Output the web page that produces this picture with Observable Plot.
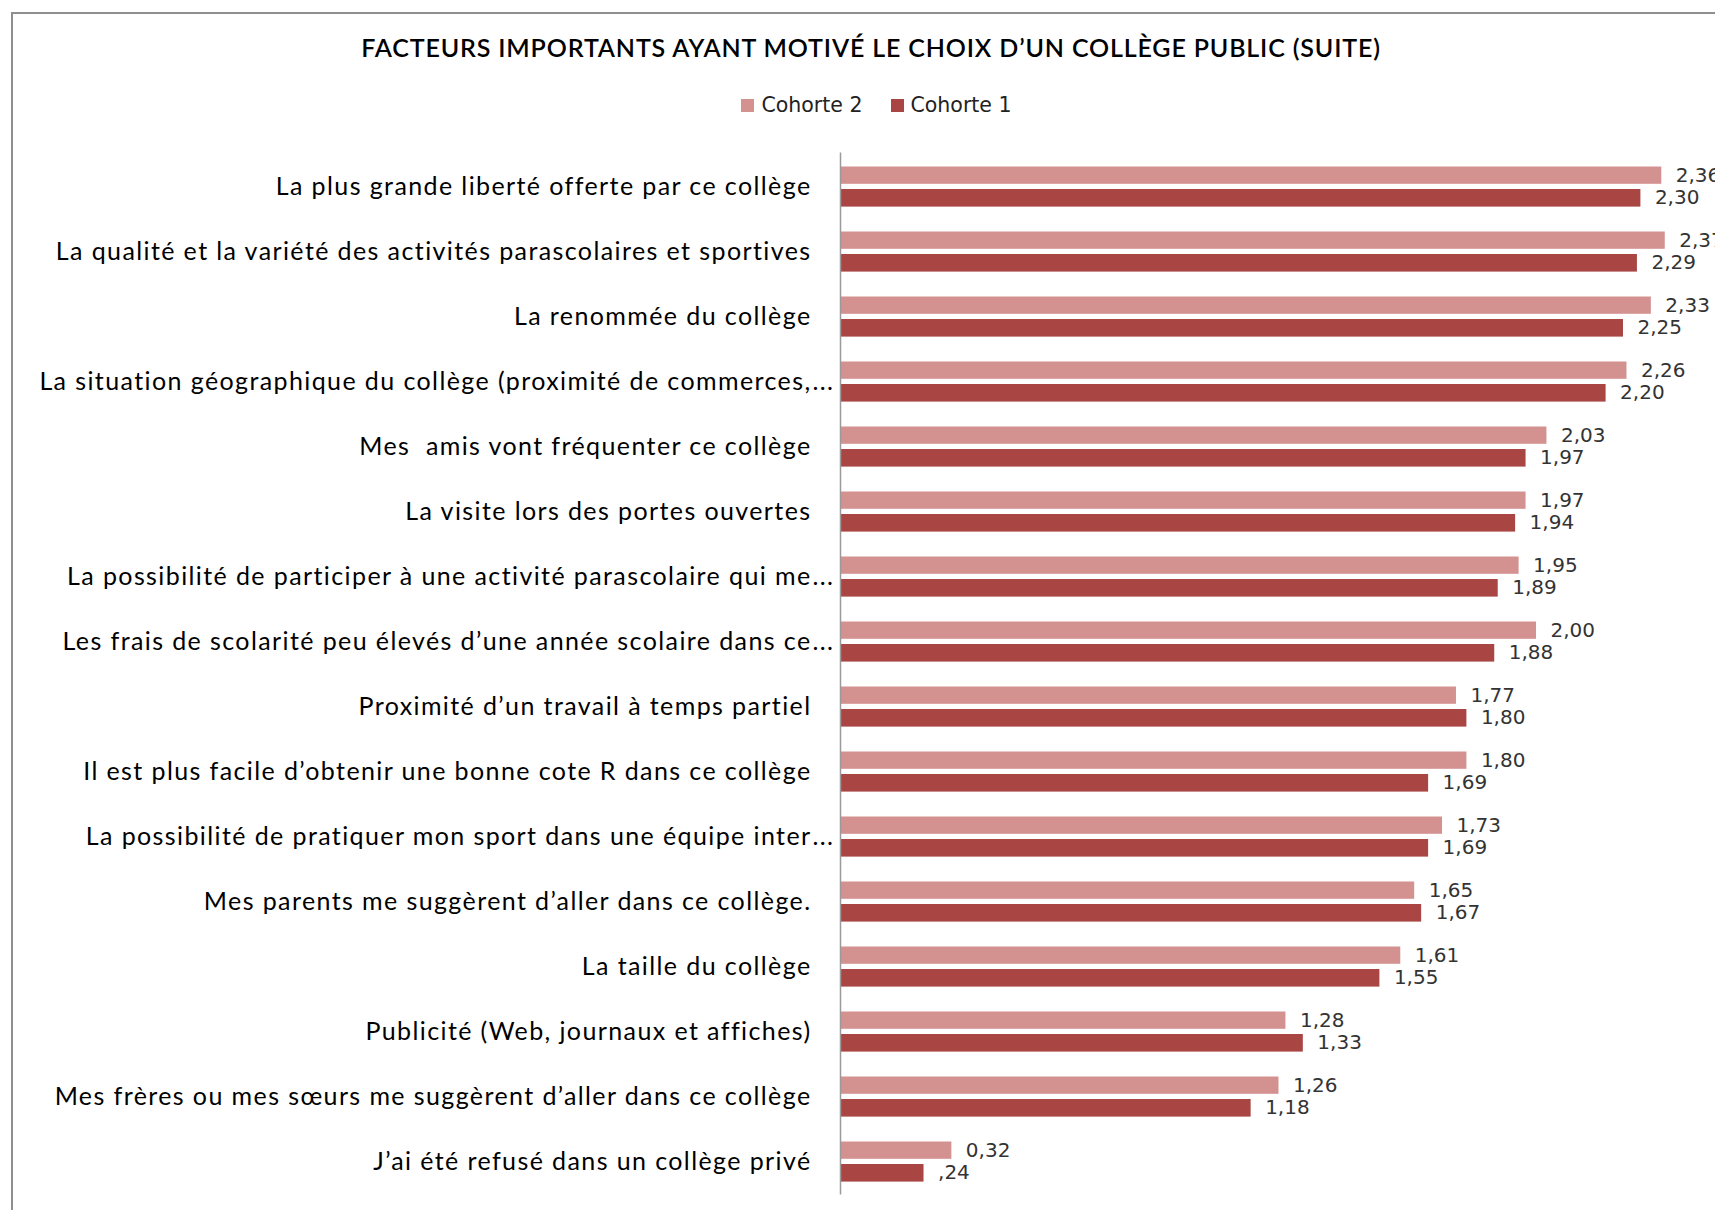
<!DOCTYPE html>
<html><head><meta charset="utf-8">
<script src="https://cdn.jsdelivr.net/npm/d3@7"></script>
<script src="https://cdn.jsdelivr.net/npm/@observablehq/plot@0.6"></script>
<style>
html,body{margin:0;padding:0;background:#fff;width:1715px;height:1210px;overflow:hidden;position:relative;}
#frame{position:absolute;left:11px;top:12px;width:1800px;height:1400px;border-left:2px solid #8f8f8f;border-top:2px solid #8f8f8f;}
#title{position:absolute;left:0;width:1742px;top:32px;text-align:center;font-family:Lato,sans-serif;font-weight:600;font-size:25px;color:#000;white-space:nowrap;letter-spacing:0.85px;}
#legend{position:absolute;left:0;width:1753px;top:93px;display:flex;justify-content:center;align-items:center;font-family:"DejaVu Sans",sans-serif;font-size:20.5px;color:#222;}
.item{display:flex;align-items:center;margin:0 14px;}
.sw{width:13px;height:13px;margin-right:7px;}
#chart{position:absolute;left:0;top:0;width:1760px;}
#chart svg{max-width:none !important;}
#chart g[font-family^="Lato"] text{letter-spacing:1.4px;}
</style></head>
<body>
<div id="frame"></div>
<div id="title">FACTEURS IMPORTANTS AYANT MOTIVÉ LE CHOIX D’UN COLLÈGE PUBLIC (SUITE)</div>
<div id="legend"></div>
<div id="chart"></div>
<script>
const categories = [
  "La plus grande liberté offerte par ce collège",
  "La qualité et la variété des activités parascolaires et sportives",
  "La renommée du collège",
  "La situation géographique du collège (proximité de commerces,...",
  "Mes  amis vont fréquenter ce collège",
  "La visite lors des portes ouvertes",
  "La possibilité de participer à une activité parascolaire qui me...",
  "Les frais de scolarité peu élevés d’une année scolaire dans ce...",
  "Proximité d’un travail à temps partiel",
  "Il est plus facile d’obtenir une bonne cote R dans ce collège",
  "La possibilité de pratiquer mon sport dans une équipe inter...",
  "Mes parents me suggèrent d’aller dans ce collège.",
  "La taille du collège",
  "Publicité (Web, journaux et affiches)",
  "Mes frères ou mes sœurs me suggèrent d’aller dans ce collège",
  "J’ai été refusé dans un collège privé"
];
const cohorte2 = [2.36, 2.37, 2.33, 2.26, 2.03, 1.97, 1.95, 2.00, 1.77, 1.80, 1.73, 1.65, 1.61, 1.28, 1.26, 0.32];
const cohorte1 = [2.30, 2.29, 2.25, 2.20, 1.97, 1.94, 1.89, 1.88, 1.80, 1.69, 1.69, 1.67, 1.55, 1.33, 1.18, 0.24];
const seriesNames = ["Cohorte 2", "Cohorte 1"];
const seriesColors = ["#D39190", "#A94644"];

const dec = d3.format(".2f");
const fmt2 = v => dec(v).replace(".", ",");
const fmt1 = v => dec(v).replace(".", ",").replace(/^0/, "");

const d2 = categories.map((c, i) => ({cat: c, v: cohorte2[i]}));
const d1 = categories.map((c, i) => ({cat: c, v: cohorte1[i]}));
const isTrunc = c => c.endsWith("...");
const mainText = c => isTrunc(c) ? c.slice(0, -3) : c;

const lg = document.getElementById("legend");
seriesNames.forEach((n, i) => {
  const it = document.createElement("div"); it.className = "item";
  const sw = document.createElement("div"); sw.className = "sw"; sw.style.background = seriesColors[i];
  const tx = document.createElement("span"); tx.textContent = n;
  it.appendChild(sw); it.appendChild(tx); lg.appendChild(it);
});

const labelFont = "Lato, sans-serif";
const valueFont = "DejaVu Sans, sans-serif";
const labelStyle = {fontSize: 25, fontFamily: labelFont, fill: "#000"};

const chart = Plot.plot({
  width: 1760,
  height: 1210,
  marginTop: 152.5,
  marginBottom: 15.5,
  marginLeft: 840,
  marginRight: 50,
  style: {overflow: "visible", background: "transparent", maxWidth: "none"},
  x: {domain: [0, 2.5], axis: null},
  y: {domain: categories, padding: 0, axis: null},
  marks: [
    Plot.barX(d2, {x: "v", y: "cat", fill: seriesColors[0], insetTop: 12.5, insetBottom: 35.2}),
    Plot.barX(d1, {x: "v", y: "cat", fill: seriesColors[1], insetTop: 35, insetBottom: 12.4}),
    Plot.ruleX([0], {stroke: "#9a9a9a", strokeWidth: 1.5}),
    Plot.text(d2, {x: "v", y: "cat", text: d => fmt2(d.v), dx: 14, dy: -11.5, textAnchor: "start", fontSize: 20, fontFamily: valueFont, fill: "#333"}),
    Plot.text(d1, {x: "v", y: "cat", text: d => fmt1(d.v), dx: 14, dy: 11, textAnchor: "start", fontSize: 20, fontFamily: valueFont, fill: "#333"}),
    Plot.text(categories, {x: 0, y: d => d, text: mainText, textAnchor: "end", dx: -29, ...labelStyle}),
    Plot.text(categories.filter(isTrunc), {x: 0, y: d => d, text: () => "...", textAnchor: "start", dx: -28, ...labelStyle})
  ]
});
document.getElementById("chart").appendChild(chart);
</script>
</body></html>
